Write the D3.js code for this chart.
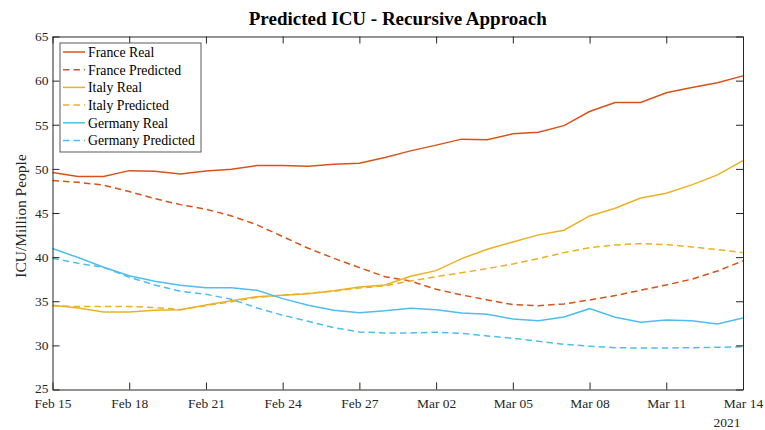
<!DOCTYPE html>
<html>
<head>
<meta charset="utf-8">
<script src="https://cdn.jsdelivr.net/npm/d3@7"></script>
<style>
  body { margin: 0; background: #fff; }
  svg { display: block; }
  svg text { font-family: "Palatino Linotype", "Book Antiqua", Palatino, "Liberation Serif", serif; }
</style>
</head>
<body>
<svg id="chart" width="765" height="430"></svg>
<script>
// daily dates, Feb 15 - Mar 14 2021
var dates = ["2021-02-15","2021-02-16","2021-02-17","2021-02-18","2021-02-19","2021-02-20","2021-02-21",
             "2021-02-22","2021-02-23","2021-02-24","2021-02-25","2021-02-26","2021-02-27","2021-02-28",
             "2021-03-01","2021-03-02","2021-03-03","2021-03-04","2021-03-05","2021-03-06","2021-03-07",
             "2021-03-08","2021-03-09","2021-03-10","2021-03-11","2021-03-12","2021-03-13","2021-03-14"];

var franceReal = [49.58,49.13,49.13,49.80,49.74,49.43,49.77,49.97,50.37,50.37,50.30,50.53,50.65,51.30,
                  52.04,52.69,53.37,53.30,53.97,54.16,54.90,56.50,57.52,57.52,58.62,59.22,59.75,60.54];
var francePred = [48.67,48.49,48.15,47.43,46.63,45.95,45.43,44.67,43.65,42.33,41.00,39.87,38.81,37.78,
                  37.30,36.36,35.71,35.15,34.62,34.50,34.69,35.15,35.64,36.25,36.85,37.50,38.43,39.57];
var italyReal  = [34.55,34.24,33.79,33.79,33.98,34.05,34.58,35.07,35.52,35.68,35.86,36.20,36.62,36.85,
                  37.83,38.47,39.83,40.90,41.72,42.52,43.05,44.67,45.54,46.70,47.24,48.19,49.32,50.94];
var italyPred  = [34.50,34.40,34.40,34.40,34.30,34.05,34.50,34.95,35.45,35.68,35.90,36.13,36.50,36.75,
                  37.30,37.79,38.24,38.70,39.23,39.83,40.51,41.08,41.38,41.53,41.42,41.16,40.85,40.51];
var germanyReal = [40.97,39.95,38.85,37.90,37.27,36.81,36.54,36.54,36.24,35.30,34.55,33.98,33.71,33.92,
                   34.20,34.05,33.67,33.52,32.99,32.80,33.22,34.16,33.18,32.61,32.88,32.80,32.43,33.11];
var germanyPred = [39.87,39.30,38.85,37.72,36.85,36.13,35.79,35.23,34.24,33.41,32.73,32.00,31.52,31.41,
                   31.41,31.49,31.37,31.07,30.80,30.47,30.12,29.90,29.74,29.70,29.70,29.74,29.78,29.85];

var xTickLabels = ["2021-02-15","2021-02-18","2021-02-21","2021-02-24","2021-02-27","2021-03-02",
                   "2021-03-05","2021-03-08","2021-03-11","2021-03-14"];
var yTicks = [25,30,35,40,45,50,55,60,65];

var seriesNames = ["France Real","France Predicted","Italy Real","Italy Predicted","Germany Real","Germany Predicted"];
var seriesValues = [franceReal, francePred, italyReal, italyPred, germanyReal, germanyPred];
var seriesColors = ["#D95319","#D95319","#EDB120","#EDB120","#4DBEEE","#4DBEEE"];
var seriesDashed = [false,true,false,true,false,true];

var drawChart = function() {
    var parse = d3.timeParse("%Y-%m-%d");
    var days = dates.map(parse);

    var svg = d3.select("#chart");
    var mLeft = 52.5, mRight = 743, mTop = 36.5, mBottom = 389.5;
    var axisColor = "#262626";

    var x = d3.scaleTime().domain([days[0], days[days.length - 1]]).range([mLeft, mRight]);
    var y = d3.scaleLinear().domain([25, 65]).range([mBottom, mTop]);

    // plot lines
    var line = d3.line()
        .x(function(d) { return x(d.date); })
        .y(function(d) { return y(d.value); });

    seriesValues.forEach(function(vals, i) {
        var pts = vals.map(function(v, j) { return { date: days[j], value: v }; });
        svg.append("path")
            .datum(pts)
            .attr("fill", "none")
            .attr("stroke", seriesColors[i])
            .attr("stroke-width", 1.5)
            .attr("stroke-dasharray", seriesDashed[i] ? "6.5,4" : null)
            .attr("d", line);
    });

    // axes, MATLAB style box with inward ticks
    var tickDates = xTickLabels.map(parse);
    var fmt = d3.timeFormat("%b %d");

    var xAxis = svg.append("g")
        .attr("transform", "translate(0," + mBottom + ")")
        .call(d3.axisBottom(x).tickValues(tickDates).tickFormat(fmt).tickSizeInner(-7).tickSizeOuter(0).tickPadding(8.5));
    var xTop = svg.append("g")
        .attr("transform", "translate(0," + mTop + ")")
        .call(d3.axisTop(x).tickValues(tickDates).tickFormat("").tickSizeInner(-7).tickSizeOuter(0));
    var yAxis = svg.append("g")
        .attr("transform", "translate(" + mLeft + ",0)")
        .call(d3.axisLeft(y).tickValues(yTicks).tickSizeInner(-7).tickSizeOuter(0).tickPadding(4));
    var yRight = svg.append("g")
        .attr("transform", "translate(" + mRight + ",0)")
        .call(d3.axisRight(y).tickValues(yTicks).tickFormat("").tickSizeInner(-7).tickSizeOuter(0));

    [xAxis, xTop, yAxis, yRight].forEach(function(g) {
        g.attr("font-family", null).attr("font-size", null);
        g.selectAll("path.domain").attr("stroke", axisColor).attr("stroke-width", 1);
        g.selectAll(".tick line").attr("stroke", axisColor);
        g.selectAll(".tick text").attr("fill", axisColor).style("font-size", "13.5px");
    });

    // the lowest y label sits a little higher, as in the reference
    yAxis.selectAll(".tick text").filter(function(d) { return d === 25; }).attr("dy", "0.2em");

    // year label
    svg.append("text")
        .attr("x", 727).attr("y", 427)
        .attr("text-anchor", "middle")
        .attr("fill", axisColor)
        .style("font-size", "13.5px")
        .text("2021");

    // y label
    svg.append("text")
        .attr("transform", "translate(26,216) rotate(-90)")
        .attr("text-anchor", "middle")
        .attr("fill", axisColor)
        .style("font-size", "15.5px")
        .text("ICU/Million People");

    // title
    svg.append("text")
        .attr("x", (mLeft + mRight) / 2).attr("y", 25)
        .attr("text-anchor", "middle")
        .attr("fill", "#000")
        .style("font-size", "19px")
        .style("font-weight", "bold")
        .text("Predicted ICU - Recursive Approach");

    // legend
    var legend = svg.append("g").attr("transform", "translate(60,43)");
    legend.append("rect")
        .attr("width", 141).attr("height", 109)
        .attr("fill", "#fff")
        .attr("stroke", "#5a5a5a")
        .attr("stroke-width", 1);

    seriesNames.forEach(function(name, i) {
        var ly = 9 + i * 17.7;
        legend.append("line")
            .attr("x1", 3).attr("x2", 25)
            .attr("y1", ly).attr("y2", ly)
            .attr("stroke", seriesColors[i])
            .attr("stroke-width", 1.5)
            .attr("stroke-dasharray", seriesDashed[i] ? "6.5,4" : null);
        legend.append("text")
            .attr("x", 28).attr("y", ly + 4.8)
            .attr("fill", "#000")
            .style("font-size", "13.8px")
            .text(name);
    });
}

drawChart();
</script>
</body>
</html>
